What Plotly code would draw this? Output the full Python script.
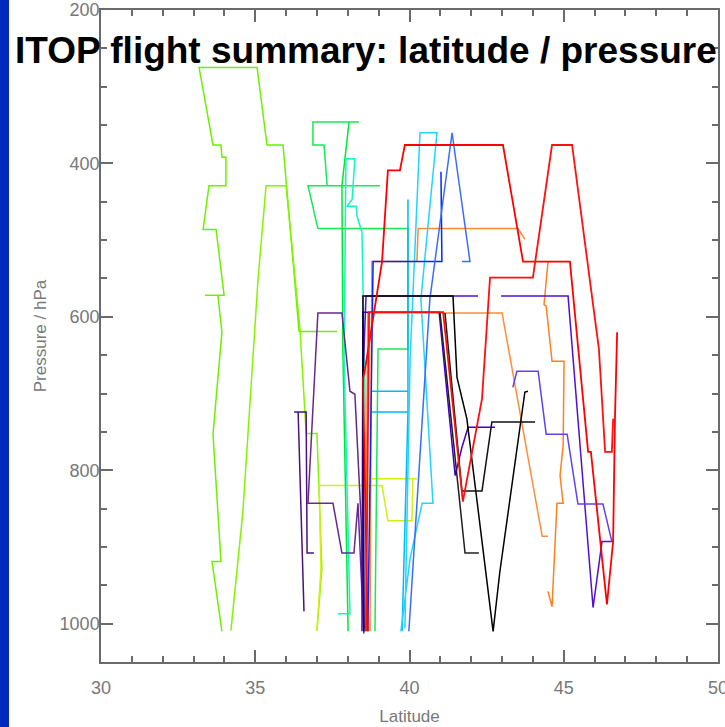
import plotly.graph_objects as go

# ---------------- flight tracks: latitude (deg N) / pressure (hPa) ----------------
lat_lime_a = [33.92, 33.60, 33.89, 33.63, 33.92, 33.79, 33.37, 33.99, 33.73, 33.31, 33.50, 34.05,
              34.05, 33.92, 33.89, 33.63, 33.18, 35.06, 35.38, 35.90, 36.42, 37.65]
p_lime_a = [1010, 919, 919, 753, 620, 572, 572, 572, 486, 486, 429, 429,
            392, 392, 376, 376, 275, 275, 376, 376, 619, 619]

lat_lime_b = [34.21, 34.60, 35.09, 35.35, 36.00, 36.45, 36.65, 37.00, 37.16, 37.00]
p_lime_b = [1009, 854, 551, 429, 429, 616, 752, 752, 928, 1009]

lat_yellow = [37.00, 37.13, 37.07, 39.11, 39.30, 40.08, 40.11, 40.24, 38.78]
p_yellow = [1010, 928, 820, 820, 866, 866, 811, 811, 811]

lat_dpurple_a = [38.52, 38.33, 38.20, 37.81, 37.52, 36.71, 37.03, 37.81, 38.07, 38.23, 38.43, 38.52]
p_dpurple_a = [1013, 843, 908, 908, 843, 843, 595, 595, 697, 701, 863, 1013]

lat_dpurple_b = [36.58, 36.39, 36.26, 36.65, 36.68, 36.90]
p_dpurple_b = [984, 724, 724, 724, 908, 908]

lat_indigo_a = [38.52, 38.49, 38.59, 42.22, None, 42.97, 45.14, 45.95, 46.11, 46.24, 46.60]
p_indigo_a = [1010, 681, 573, 573, None, 573, 573, 979, 932, 893, 893]

lat_indigo_b = [43.35, 43.48, 44.17, 44.43, 45.11, 45.46, 46.27, 46.56]
p_indigo_b = [692, 671, 671, 753, 753, 844, 844, 893]

lat_indigo_c = [38.46, 38.49, 40.96, 41.48, 41.70, 41.90, 42.77]
p_indigo_c = [1010, 594, 594, 807, 770, 744, 744]

lat_blue_a = [38.65, 38.82, 41.05, 41.02]
p_blue_a = [1010, 528, 528, 411]

lat_blue_b = [39.98, 40.44, 40.66, 41.38, 41.96, 41.70]
p_blue_b = [1010, 707, 577, 360, 528, 528]

lat_cyan_a = [39.95, 39.95, 38.78, 39.95, 39.95, 38.78, 39.95, 39.76]
p_cyan_a = [447, 697, 697, 697, 724, 724, 724, 1010]

lat_cyan_b = [39.72, 40.02, 40.41, 40.76, 40.37, 40.89, 40.34, 40.02, 39.85]
p_cyan_b = [1010, 915, 843, 843, 577, 360, 360, 655, 1006]

lat_red_a = [38.65, 38.49, 38.56, 39.11, 39.30, 39.69, 39.85, 43.03, 43.68, 45.20, 45.79, 45.88,
             46.40, 46.60, 46.66, 46.73]
p_red_a = [1010, 681, 668, 528, 409, 409, 376, 376, 528, 528, 776, 776, 975, 893, 733, 620]

lat_red_b = [38.59, 38.69, 41.09, 41.73, 42.35, 42.61, 44.00, 44.62, 45.27, 46.14, 46.34, 46.56, 46.60]
p_red_b = [1010, 594, 594, 841, 707, 549, 549, 376, 376, 642, 776, 776, 733]

lat_orange_a = [38.72, 38.78, 40.24, 40.28, 43.52, 43.74]
p_orange_a = [1010, 528, 528, 485, 485, 499]

lat_orange_b = [38.56, 38.65, 43.00, 44.30, 44.49]
p_orange_b = [1010, 595, 595, 886, 886]

lat_orange_c = [44.49, 44.36, 44.43, 44.62, 45.01, 44.98, 44.88, 44.98, 44.78, 44.62, 44.49]
p_orange_c = [528, 584, 586, 658, 658, 768, 807, 843, 843, 978, 958]

lat_black_a = [38.52, 38.49, 41.41, 41.54, 41.86, 42.71, 42.93, 43.74, 43.84]
p_black_a = [1010, 573, 573, 679, 733, 1010, 932, 698, 697]

lat_black_b = [41.15, 41.70, 42.35, 42.67, 44.07]
p_black_b = [595, 827, 827, 737, 737]

lat_black_c = [40.99, 41.80, 42.25]
p_black_c = [595, 908, 908]

lat_green_a = [38.36, 36.87, 36.87, 37.23, 37.33, 39.04, 36.71, 37.03, 39.95, 39.95, 38.98, 38.88]
p_green_a = [346, 346, 376, 376, 429, 429, 429, 485, 485, 642, 642, 1010]

lat_green_b = [38.04, 37.81, 37.84, 38.01]
p_green_b = [346, 429, 642, 1010]

lat_aqua = [37.68, 38.07, 37.88, 37.94, 37.94, 38.23, 38.14, 37.97, 38.27, 38.30, 38.46, 38.56, 38.59]
p_aqua = [987, 987, 655, 447, 394, 394, 447, 456, 456, 469, 490, 707, 1010]

# axis ticks
x_ticks = [30, 35, 40, 45, 50]
y_ticks = [200, 400, 600, 800, 1000]

# drawing order (later tracks on top)
tracks = [
    ("lime_a", lat_lime_a, p_lime_a),
    ("lime_b", lat_lime_b, p_lime_b),
    ("yellow", lat_yellow, p_yellow),
    ("green_a", lat_green_a, p_green_a),
    ("green_b", lat_green_b, p_green_b),
    ("aqua", lat_aqua, p_aqua),
    ("dpurple_a", lat_dpurple_a, p_dpurple_a),
    ("dpurple_b", lat_dpurple_b, p_dpurple_b),
    ("orange_a", lat_orange_a, p_orange_a),
    ("orange_b", lat_orange_b, p_orange_b),
    ("orange_c", lat_orange_c, p_orange_c),
    ("cyan_a", lat_cyan_a, p_cyan_a),
    ("cyan_b", lat_cyan_b, p_cyan_b),
    ("blue_a", lat_blue_a, p_blue_a),
    ("blue_b", lat_blue_b, p_blue_b),
    ("indigo_a", lat_indigo_a, p_indigo_a),
    ("indigo_b", lat_indigo_b, p_indigo_b),
    ("indigo_c", lat_indigo_c, p_indigo_c),
    ("black_a", lat_black_a, p_black_a),
    ("black_b", lat_black_b, p_black_b),
    ("black_c", lat_black_c, p_black_c),
    ("red_a", lat_red_a, p_red_a),
    ("red_b", lat_red_b, p_red_b),
]

colors = {
    "lime_a": "#6ef000", "lime_b": "#84f400", "yellow": "#d4ee10",
    "green_a": "#18e858", "green_b": "#00e632", "aqua": "#10f8c0",
    "dpurple_a": "#642a8c", "dpurple_b": "#4b1278",
    "cyan_a": "#00b8ff", "cyan_b": "#22d4ff",
    "blue_a": "#0028ff", "blue_b": "#3a6cff",
    "indigo_a": "#5010d8", "indigo_b": "#6040f0", "indigo_c": "#4000c8",
    "black_a": "#000000", "black_b": "#111111", "black_c": "#202020",
    "orange_a": "#ff8a30", "orange_b": "#ff8c38", "orange_c": "#ff8020",
    "red_a": "#ff0000", "red_b": "#ff1010",
}

fig = go.Figure()
for name, lat, p in tracks:
    w = 1.8 if name.startswith("red") else 1.5
    fig.add_trace(go.Scatter(x=lat, y=p, mode="lines",
                             line=dict(color=colors[name], width=w),
                             showlegend=False, hoverinfo="skip"))

tick_font = dict(family="Liberation Sans, Arial", size=18, color="#787878")
title_font = dict(family="Liberation Sans, Arial", size=17, color="#787878")
axis_gray = "#6a6a6a"

# plot area in pixels: x 101..718, y 10..662
fig.update_layout(
    width=725, height=727,
    margin=dict(l=101, r=7, t=10, b=65, autoexpand=False),
    paper_bgcolor="white", plot_bgcolor="white",
    xaxis=dict(range=[30, 50], tickvals=x_ticks, ticks="inside", ticklen=12, tickwidth=1.5,
               tickcolor=axis_gray, showline=True, linecolor=axis_gray, linewidth=1.5,
               mirror="allticks", showgrid=False, zeroline=False, tickfont=tick_font,
               ticklabelstandoff=9, automargin=False, ticklabeloverflow="allow",
               minor=dict(dtick=1, ticks="inside", ticklen=6, tickcolor=axis_gray, tickwidth=1.5),
               title=dict(text="Latitude", font=title_font, standoff=13)),
    yaxis=dict(range=[1050, 200], tickvals=y_ticks, ticks="inside", ticklen=12, tickwidth=1.5,
               tickcolor=axis_gray, showline=True, linecolor=axis_gray, linewidth=1.5,
               mirror="allticks", showgrid=False, zeroline=False, tickfont=tick_font,
               ticklabelstandoff=-4, automargin=False, ticklabeloverflow="allow",
               minor=dict(dtick=50, ticks="inside", ticklen=6, tickcolor=axis_gray, tickwidth=1.5),
               title=dict(text="Pressure / hPa", font=title_font, standoff=9)),
    shapes=[dict(type="rect", xref="paper", yref="paper",
                 x0=-101 / 617, x1=-92 / 617, y0=-65 / 652, y1=672 / 652,
                 fillcolor="#0029bd", line=dict(width=0), layer="above")],
    annotations=[dict(text="<b>ITOP flight summary: latitude / pressure</b>",
                      xref="paper", yref="paper", x=(366 - 101) / 617, y=(662 - 51) / 652,
                      xanchor="center", yanchor="middle", showarrow=False,
                      font=dict(family="Liberation Sans, Arial", size=37, color="black"))],
)

fig.write_html("out.html", config={"displayModeBar": False},
               post_script="document.body.style.margin='0';document.body.style.overflow='hidden';")
